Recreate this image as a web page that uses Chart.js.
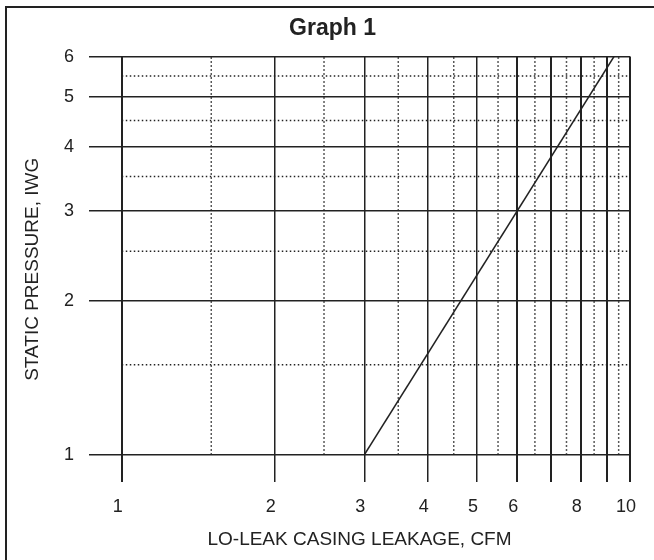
<!DOCTYPE html>
<html>
<head>
    <meta charset="utf-8">
    <title>Graph 1</title>
    <script src="https://cdn.jsdelivr.net/npm/chart.js"></script>
    <style>
        body { margin: 0; background: #fff; }
        #frame { position: absolute; left: 5px; top: 6px; width: 700px; height: 600px;
                 border-left: 2px solid #222; border-top: 2px solid #222; }
        #chartCanvas { position: absolute; left: 0; top: 0; }
    </style>
</head>
<body>
<div id="frame"></div>
<canvas id="chartCanvas" width="654" height="560"></canvas>
<script>
    // leakage line (cfm vs in. wg)
    var leakX = [3, 9.3];
    var leakY = [1, 6];

    // major grid / tick values
    var xTicks = [1, 2, 3, 4, 5, 6, 7, 8, 9, 10];
    var xLabels = [1, 2, 3, 4, 5, 6, 8, 10];
    var yTicks = [1, 2, 3, 4, 5, 6];

    // dotted half-step grid
    var minorX = [1.5, 2.5, 3.5, 4.5, 5.5, 6.5, 7.5, 8.5, 9.5];
    var minorY = [1.5, 2.5, 3.5, 4.5, 5.5];

    var ink = '#222';
    var fam = "'Liberation Sans', Arial, sans-serif";

    var datasets = [];
    minorX.forEach(function (v) {
        datasets.push({ data: [{x: v, y: 1}, {x: v, y: 6}], borderColor: ink, borderWidth: 1.5,
            borderDash: [1.5, 2.5], pointRadius: 0, showLine: true });
    });
    minorY.forEach(function (v) {
        datasets.push({ data: [{x: 1, y: v}, {x: 10, y: v}], borderColor: ink, borderWidth: 1.5,
            borderDash: [1.5, 2.5], pointRadius: 0, showLine: true });
    });
    datasets.push({
        data: leakX.map(function (x, i) { return {x: x, y: leakY[i]}; }),
        borderColor: ink, borderWidth: 1.6, pointRadius: 0, showLine: true
    });

    var ctx = document.getElementById('chartCanvas').getContext('2d');
    var chart = new Chart(ctx, {
        type: 'scatter',
        data: { datasets: datasets },
        options: {
            responsive: false,
            animation: false,
            events: [],
            layout: { padding: { left: 30, right: 19, top: 0, bottom: 0 } },
            plugins: {
                legend: { display: false },
                tooltip: { enabled: false },
                title: {
                    display: true, text: 'Graph 1', color: ink,
                    font: { family: fam, size: 23, weight: 'bold' },
                    padding: { top: 15, bottom: 14 }
                }
            },
            scales: {
                x: {
                    type: 'logarithmic', min: 0.862, max: 10,
                    afterBuildTicks: function (s) { s.ticks = xTicks.map(function (v) { return {value: v}; }); },
                    afterFit: function (s) { s.height = 78; },
                    border: { display: false },
                    grid: { color: ink, drawTicks: false,
                        lineWidth: function (c) { return (c.tick && (c.tick.value === 1 || c.tick.value >= 6)) ? 2 : 1.5; } },
                    ticks: { color: ink, font: { family: fam, size: 18 }, padding: 14, autoSkip: false, maxRotation: 0,
                        labelOffset: -4,
                        callback: function (v) { return xLabels.indexOf(v) >= 0 ? String(v) : ''; } },
                    title: { display: true, text: 'LO-LEAK CASING LEAKAGE, CFM', color: ink,
                        font: { family: fam, size: 19 }, padding: { top: 0, bottom: 9 } }
                },
                y: {
                    type: 'logarithmic', min: 0.885, max: 6,
                    afterBuildTicks: function (s) { s.ticks = yTicks.map(function (v) { return {value: v}; }); },
                    afterFit: function (s) { s.width = 59; },
                    border: { display: false },
                    grid: { color: ink, lineWidth: 1.6, drawTicks: false },
                    ticks: { color: ink, font: { family: fam, size: 18 }, padding: 15,
                        callback: function (v) { return yTicks.indexOf(v) >= 0 ? String(v) : ''; } },
                    title: { display: true, text: 'STATIC PRESSURE, IWG', color: ink,
                        font: { family: fam, size: 19 }, padding: { top: -9, bottom: 0 } }
                }
            }
        }
    });
</script>
</body>
</html>
